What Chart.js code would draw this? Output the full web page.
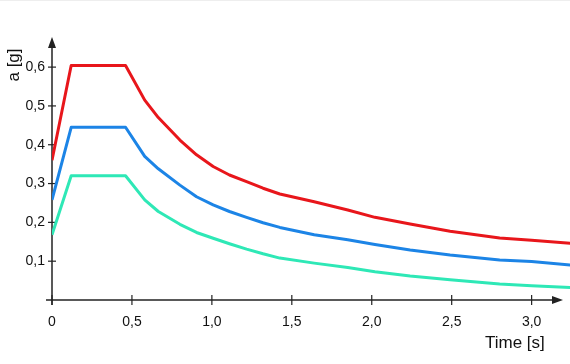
<!DOCTYPE html>
<html>
<head>
<meta charset="utf-8">
<script src="https://cdn.jsdelivr.net/npm/chart.js@4.4.0/dist/chart.umd.min.js"></script>
<style>
    html, body { margin: 0; padding: 0; background: #fff; }
    #wrap { width: 570px; height: 364px; }
</style>
</head>
<body>
<div id="wrap"><canvas id="spectrumChart"></canvas></div>
<script>
// periods (s) and spectral acceleration (g)
const times = [0, 0.12, 0.46, 0.58, 0.665, 0.8, 0.904, 1.008, 1.11, 1.217, 1.32, 1.425, 1.64, 1.85, 2.02, 2.24, 2.49, 2.8, 3.0, 3.25];
const redValues = [0.36, 0.604, 0.604, 0.515, 0.47, 0.412, 0.374, 0.344, 0.322, 0.305, 0.288, 0.273, 0.253, 0.232, 0.213, 0.196, 0.177, 0.16, 0.154, 0.146];
const blueValues = [0.258, 0.445, 0.445, 0.37, 0.338, 0.296, 0.266, 0.245, 0.228, 0.213, 0.199, 0.187, 0.168, 0.155, 0.143, 0.129, 0.116, 0.103, 0.099, 0.09];
const cyanValues = [0.168, 0.32, 0.32, 0.258, 0.228, 0.195, 0.174, 0.159, 0.145, 0.131, 0.119, 0.108, 0.095, 0.084, 0.073, 0.062, 0.052, 0.041, 0.037, 0.032];

const xTickLabels = ['0', '0,5', '1,0', '1,5', '2,0', '2,5', '3,0'];
const yTickLabels = ['0,1', '0,2', '0,3', '0,4', '0,5', '0,6'];

const ctx = document.getElementById('spectrumChart');
const axisColor = '#222';

function toPoints(values) {
    return times.map((t, i) => ({ x: t, y: values[i] }));
}

// axes with crossing ticks and arrow heads, plus the axis titles
const axesPlugin = {
    id: 'arrowAxes',
    beforeDatasetsDraw(chart) {
        const c = chart.ctx;
        const xs = chart.scales.x;
        const ys = chart.scales.y;
        const x0 = xs.getPixelForValue(0);
        const y0 = ys.getPixelForValue(0);
        c.save();

        // faint line at the very top
        c.strokeStyle = '#eeeeee';
        c.lineWidth = 1;
        c.beginPath();
        c.moveTo(0, 0.5);
        c.lineTo(chart.width, 0.5);
        c.stroke();

        c.strokeStyle = axisColor;
        c.fillStyle = axisColor;
        c.lineWidth = 1.5;

        // x axis
        c.beginPath();
        c.moveTo(x0 - 6, y0);
        c.lineTo(556, y0);
        c.stroke();
        c.beginPath();
        c.moveTo(563, y0);
        c.lineTo(552, y0 - 4);
        c.lineTo(552, y0 + 4);
        c.closePath();
        c.fill();

        // y axis
        c.beginPath();
        c.moveTo(x0, y0 + 5);
        c.lineTo(x0, 44);
        c.stroke();
        c.beginPath();
        c.moveTo(x0, 37);
        c.lineTo(x0 - 4, 48);
        c.lineTo(x0 + 4, 48);
        c.closePath();
        c.fill();

        // tick marks crossing the axes
        c.lineWidth = 1.2;
        xs.ticks.forEach(tick => {
            const px = xs.getPixelForValue(tick.value);
            c.beginPath();
            c.moveTo(px, y0 - 5);
            c.lineTo(px, y0 + 5);
            c.stroke();
        });
        ys.ticks.forEach(tick => {
            if (tick.value === 0) return;
            const py = ys.getPixelForValue(tick.value);
            c.beginPath();
            c.moveTo(x0 - 4, py);
            c.lineTo(x0 + 4, py);
            c.stroke();
        });

        // axis titles
        c.fillStyle = '#111';
        c.font = '17px "Liberation Sans", Arial, sans-serif';
        c.textAlign = 'left';
        c.textBaseline = 'middle';
        c.fillText('Time [s]', 485, 343);

        c.translate(14, 65);
        c.rotate(-Math.PI / 2);
        c.textAlign = 'center';
        c.fillText('a [g]', 0, 0);
        c.restore();
    }
};

const lineStyle = {
    borderWidth: 3,
    pointRadius: 0,
    fill: false,
    tension: 0,
    borderJoinStyle: 'round'
};

const spectrumChart = new Chart(ctx, {
    type: 'line',
    data: {
        datasets: [
            Object.assign({ label: 'red', data: toPoints(redValues), borderColor: '#e8161b' }, lineStyle),
            Object.assign({ label: 'blue', data: toPoints(blueValues), borderColor: '#1c84e6' }, lineStyle),
            Object.assign({ label: 'cyan', data: toPoints(cyanValues), borderColor: '#2ee8b6' }, lineStyle)
        ]
    },
    options: {
        responsive: true,
        maintainAspectRatio: false,
        animation: false,
        layout: { padding: { top: 38, right: 0, bottom: 0, left: 0 } },
        plugins: {
            legend: { display: false },
            tooltip: { enabled: false }
        },
        scales: {
            x: {
                type: 'linear',
                min: 0,
                max: 3.24,
                grid: { display: false, drawTicks: false },
                border: { display: false },
                afterFit(scale) { scale.height = 64; },
                ticks: {
                    stepSize: 0.5,
                    includeBounds: false,
                    padding: 14,
                    color: '#111',
                    font: { family: '"Liberation Sans", Arial, sans-serif', size: 14 },
                    callback: (value, index) => xTickLabels[index]
                }
            },
            y: {
                min: 0,
                max: 0.675,
                grid: { display: false, drawTicks: false },
                border: { display: false },
                afterFit(scale) { scale.width = 52; },
                ticks: {
                    stepSize: 0.1,
                    includeBounds: false,
                    padding: 7,
                    color: '#111',
                    font: { family: '"Liberation Sans", Arial, sans-serif', size: 14 },
                    callback: (value, index) => index === 0 ? '' : yTickLabels[index - 1]
                }
            }
        }
    },
    plugins: [axesPlugin]
});
</script>
</body>
</html>
